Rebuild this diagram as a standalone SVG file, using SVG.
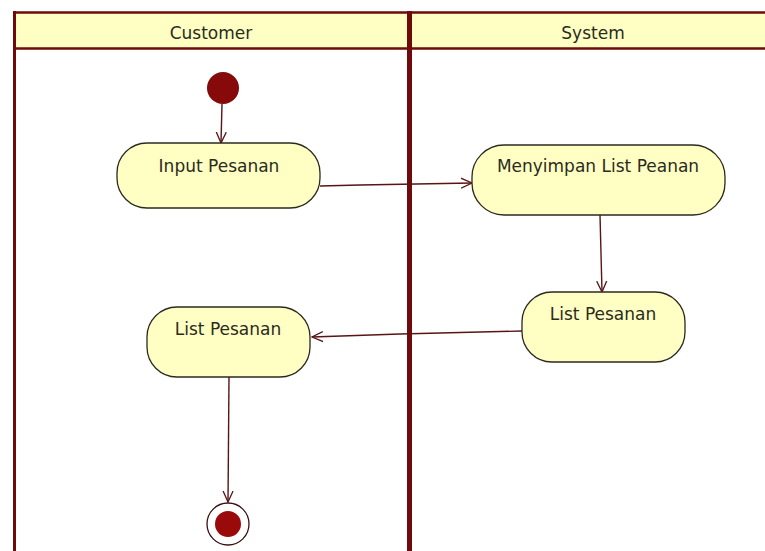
<svg xmlns="http://www.w3.org/2000/svg" width="765" height="551" viewBox="0 0 765 551">
  <style>
    .lane-head { fill: #ffffc4; }
    .lane-line { stroke: #6e0a0a; fill: none; }
    .head-text { font-family: "DejaVu Sans", Verdana, sans-serif; font-size: 17px; fill: #2b2b1c; text-anchor: middle; }
    .action { fill: #ffffc4; stroke: #2a2a20; stroke-width: 1.3; }
    .label { font-family: "DejaVu Sans", Verdana, sans-serif; font-size: 17px; fill: #2b2b1c; text-anchor: middle; }
    .flow { stroke: #5a1414; stroke-width: 1.4; fill: none; marker-end: url(#openArrow); }
  </style>
  <defs>
    <marker id="openArrow" viewBox="0 0 12 12" refX="11" refY="6" markerWidth="12" markerHeight="12" markerUnits="userSpaceOnUse" orient="auto">
      <path d="M0,1 L11,6 L0,11" fill="none" stroke="#5a1414" stroke-width="1.3"/>
    </marker>
  </defs>

  <rect width="765" height="551" fill="#ffffff"/>

  <!-- swimlane frame -->
  <g id="lanes">
    <rect class="lane-head" x="14" y="12" width="751" height="36"/>
    <line class="lane-line" x1="13" y1="12.5" x2="765" y2="12.5" stroke-width="2.5"/>
    <line class="lane-line" x1="13" y1="48.5" x2="765" y2="48.5" stroke-width="2.5"/>
    <line class="lane-line" x1="14.5" y1="11" x2="14.5" y2="551" stroke-width="3"/>
    <line class="lane-line" x1="409.5" y1="11" x2="409.5" y2="551" stroke-width="5"/>
    <text class="head-text" x="211" y="39">Customer</text>
    <text class="head-text" x="593" y="39">System</text>
  </g>

  <!-- connectors -->
  <g id="connectors">
    <line class="flow" x1="222" y1="104" x2="221" y2="143"/>
    <polyline class="flow" points="320,186 360,185 472,183"/>
    <line class="flow" x1="600" y1="215" x2="602" y2="292"/>
    <polyline class="flow" points="522,331 400,334 312,337"/>
    <line class="flow" x1="229" y1="377" x2="228" y2="502"/>
  </g>

  <g id="start">
    <circle cx="223" cy="88" r="16" fill="#860a0a"/>
  </g>

  <g id="input-pesanan">
    <rect class="action" x="117" y="143" width="203" height="65" rx="30" ry="30"/>
    <text class="label" x="219" y="172">Input Pesanan</text>
  </g>

  <g id="menyimpan-list">
    <rect class="action" x="472" y="145" width="253" height="70" rx="32" ry="32"/>
    <text class="label" x="598" y="172">Menyimpan List Peanan</text>
  </g>

  <g id="list-pesanan-system">
    <rect class="action" x="522" y="292" width="163" height="70" rx="30" ry="30"/>
    <text class="label" x="603" y="320">List Pesanan</text>
  </g>

  <g id="list-pesanan-customer">
    <rect class="action" x="147" y="307" width="163" height="70" rx="30" ry="30"/>
    <text class="label" x="228" y="335">List Pesanan</text>
  </g>

  <g id="end">
    <circle cx="228" cy="524" r="21" fill="#ffffff" stroke="#3a1010" stroke-width="1.3"/>
    <circle cx="228" cy="524" r="13" fill="#9a0a0a"/>
  </g>
</svg>
